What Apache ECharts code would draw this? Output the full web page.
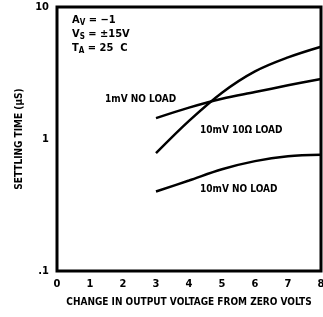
<!DOCTYPE html>
<html>
<head>
<meta charset="utf-8">
<script src="https://cdn.jsdelivr.net/npm/echarts@6/dist/echarts.min.js"></script>
<style>
html,body{margin:0;padding:0;background:#fff;}
#chart01{width:323px;height:317px;}
</style>
</head>
<body>
<div id="chart01"></div>
<script>
var FONT = '"Liberation Sans Narrow", "DejaVu Sans Condensed", sans-serif';

// data
var volts = [3, 4, 5, 6, 7, 8];
var time1mVNoLoad = [1.44, 1.73, 2.02, 2.27, 2.55, 2.85];
var time10mVLoad = [0.78, 1.37, 2.24, 3.25, 4.15, 5.0];
var time10mVNoLoad = [0.40, 0.485, 0.59, 0.68, 0.74, 0.76];

var xTicks = [0, 1, 2, 3, 4, 5, 6, 7, 8];
var yTickLabels = {'0.1': '.1', '1': '1', '10': '10'};

function pairs(xs, ys){
	var out = [];
	for(var i=0;i<xs.length;i++){
		out.push([xs[i], ys[i]]);
	}
	return out;
}

function curve(xs, ys){
	return {
		type: 'line',
		data: pairs(xs, ys),
		smooth: 0.35,
		showSymbol: false,
		lineStyle: {color: '#000', width: 2.5},
		silent: true
	};
}

var txt = {fontFamily: FONT, fontSize: 10, fill: '#000', fontWeight: 'bold'};
var rich = {
	n: {fontFamily: FONT, fontSize: 11, fontWeight: 'bold'},
	s: {fontFamily: FONT, fontSize: 8, fontWeight: 'bold', padding: [5,0,0,0]}
};

var option = {
	animation: false,
	grid: {
		left: 57, right: 2, top: 7, bottom: 46,
		containLabel: false,
		outerBoundsMode: 'none',
		show: true, borderColor: '#000', borderWidth: 3
	},
	xAxis: {
		type: 'value',
		min: 0, max: 8, interval: 1,
		axisLine: {show: false},
		axisTick: {show: false},
		splitLine: {show: false},
		axisLabel: {
			color: '#000', fontFamily: FONT, fontSize: 11, fontWeight: 'bold', margin: 8,
			formatter: function(v){ return xTicks.indexOf(v) >= 0 ? String(v) : ''; }
		},
		name: 'CHANGE IN OUTPUT VOLTAGE FROM ZERO VOLTS',
		nameLocation: 'middle',
		nameGap: 26,
		nameTextStyle: {color: '#000', fontFamily: FONT, fontSize: 10, fontWeight: 'bold'}
	},
	yAxis: {
		type: 'log',
		logBase: 10,
		min: 0.1, max: 10,
		axisLine: {show: false},
		axisTick: {show: false},
		splitLine: {show: false},
		minorTick: {show: false},
		axisLabel: {
			color: '#000', fontFamily: FONT, fontSize: 11, fontWeight: 'bold', margin: 8,
			formatter: function(v){ var k = String(+v.toPrecision(3)); return yTickLabels[k] || ''; }
		},
		name: 'SETTLING TIME (\u00b5S)',
		nameLocation: 'middle',
		nameGap: 30,
		nameTextStyle: {color: '#000', fontFamily: FONT, fontSize: 10, fontWeight: 'bold'}
	},
	series: [
		curve(volts, time1mVNoLoad),
		curve(volts, time10mVLoad),
		curve(volts, time10mVNoLoad)
	],
	graphic: [
		{type: 'text', left: 72, top: 15, style: {text: '{n|A}{s|V}{n| = \u22121}', fill: '#000', rich: rich}},
		{type: 'text', left: 72, top: 29, style: {text: '{n|V}{s|S}{n| = \u00b115V}', fill: '#000', rich: rich}},
		{type: 'text', left: 72, top: 43, style: {text: '{n|T}{s|A}{n| = 25  C}', fill: '#000', rich: rich}},
		{type: 'text', left: 105, top: 94, style: Object.assign({text: '1mV NO LOAD'}, txt)},
		{type: 'text', left: 200, top: 125, style: Object.assign({text: '10mV 10\u03a9 LOAD'}, txt)},
		{type: 'text', left: 200, top: 184, style: Object.assign({text: '10mV NO LOAD'}, txt)}
	]
};

var myChart = echarts.init(document.getElementById('chart01'));
myChart.setOption(option);
</script>
</body>
</html>
